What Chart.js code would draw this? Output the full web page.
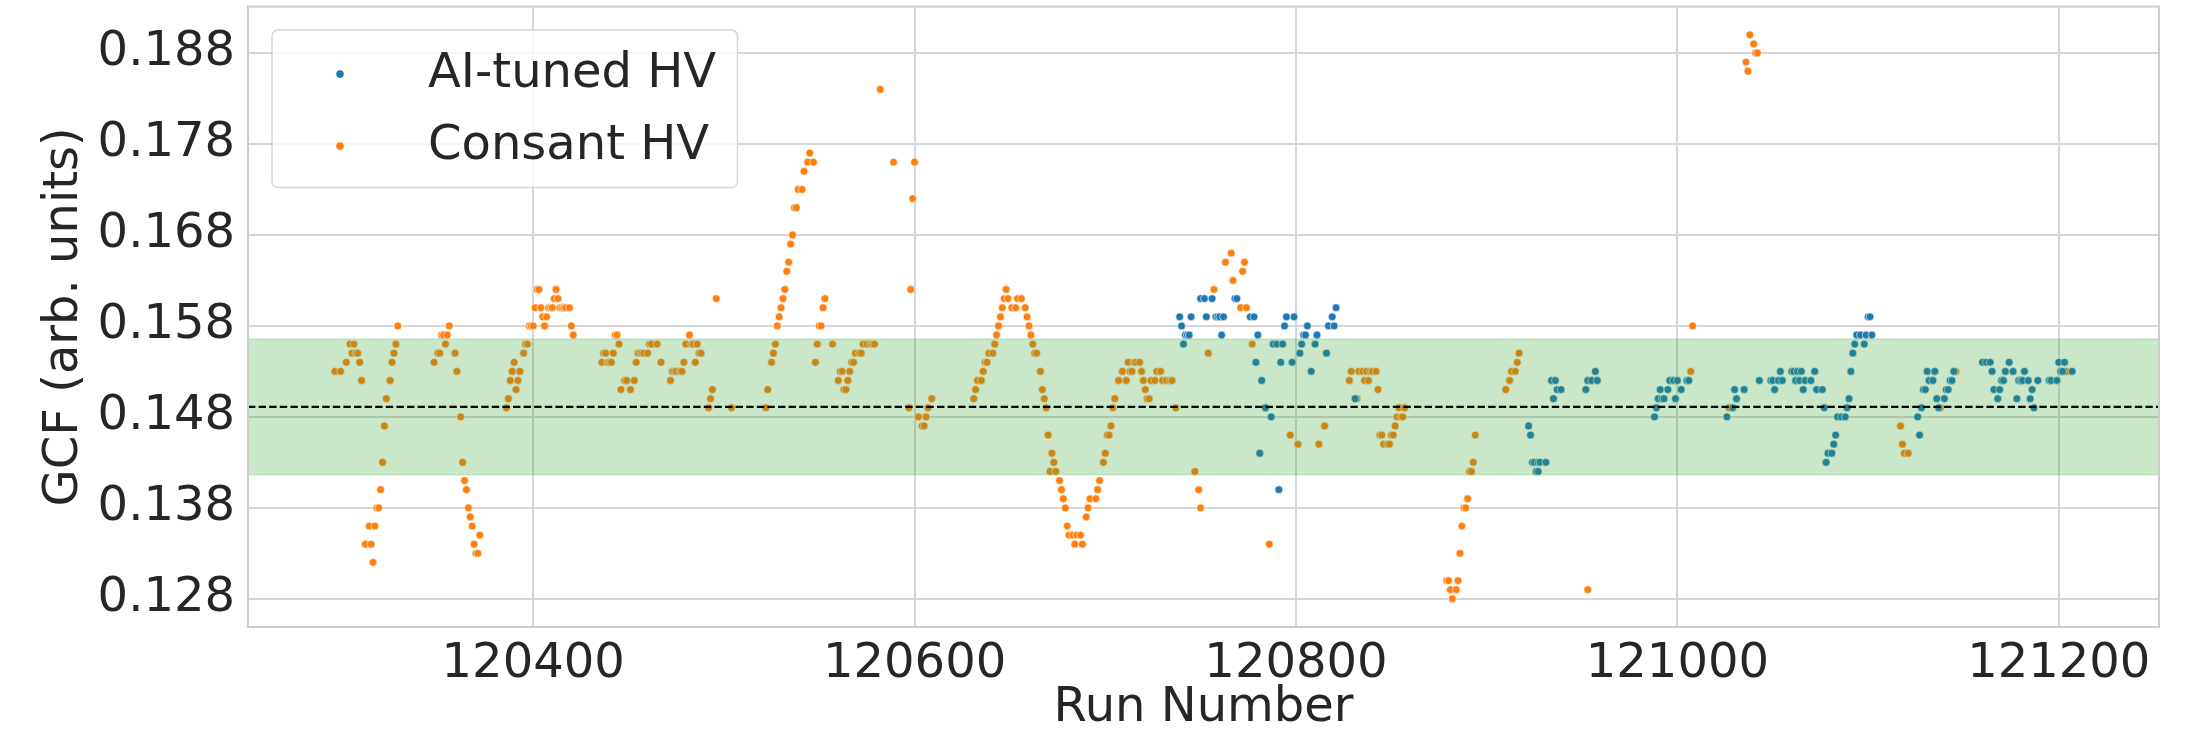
<!DOCTYPE html>
<html>
<head>
<meta charset="utf-8">
<script src="https://cdn.jsdelivr.net/npm/chart.js@4/dist/chart.umd.min.js"></script>
<style>
  html, body { margin: 0; padding: 0; background: #ffffff; }
  #wrap { width: 2203px; height: 737px; }
</style>
</head>
<body>
<div id="wrap"><canvas id="gcfChart" width="2203" height="737"></canvas></div>
<script>
// GCF per run, AI-tuned HV runs
const aiRuns = [
  120739,120740,120741,120742,120743,120744,120745,120750,120752,120753,120756,120758,120759,120760,120761,120762,120768,120769,120776,120778,120779,120780,120781,120782,120784,120787,120788,120790,120791,120792,120793,120794,120795,120798,120799,120802,120803,120804,120805,120806,120808,120810,120811,120816,120817,120819,120820,120821,120831,
  120922,120923,120924,120925,120926,120927,120927,120928,120931,120934,120935,120936,120937,120939,120952,120953,120955,120957,120958,
  120988,120989,120990,120991,120992,120993,120995,120996,120998,120999,121000,121002,121005,121006,
  121026,121029,121030,121031,121035,121043,121049,121050,121051,121053,121054,121055,121060,121061,121062,121063,121064,121065,121066,121067,121070,121072,121073,121076,121077,121078,121079,121081,121082,121083,121084,121086,121088,121089,121090,121091,121092,121093,121094,121096,121098,121099,121100,121101,121102,
  121126,121127,121128,121129,121130,121131,121132,121134,121135,121136,121137,121140,121141,121142,121143,121144,121145,
  121160,121162,121164,121165,121166,121168,121169,121170,121171,121172,121174,121176,121178,121179,121180,121181,121182,121184,121185,121186,121187,121189,121195,121196,121199,121200,121201,121202,121203,121207
];
const aiGcf = [
  .159,.158,.156,.157,.157,.157,.159,.161,.161,.159,.161,.159,.159,.159,.157,.159,.161,.161,.159,.159,.154,.157,.144,.152,.149,.148,.156,.156,.140,.154,.156,.158,.159,.154,.159,.155,.156,.157,.157,.158,.153,.156,.157,.155,.158,.159,.158,.160,.150,
  .147,.146,.143,.143,.142,.143,.142,.143,.143,.152,.150,.152,.151,.151,.151,.152,.152,.153,.152,
  .148,.149,.150,.151,.150,.150,.151,.152,.152,.150,.152,.151,.152,.152,
  .148,.149,.151,.150,.151,.152,.152,.152,.151,.152,.153,.152,.153,.153,.152,.153,.152,.153,.151,.152,.152,.153,.151,.151,.149,.143,.144,.144,.145,.146,.148,.148,.148,.149,.150,.153,.155,.156,.157,.157,.156,.157,.159,.159,.157,
  .148,.146,.149,.151,.151,.153,.152,.152,.153,.150,.149,.150,.151,.151,.152,.152,.153,
  .154,.154,.154,.153,.151,.150,.151,.152,.152,.153,.154,.153,.150,.152,.152,.152,.153,.152,.150,.151,.149,.152,.152,.152,.152,.154,.153,.153,.154,.153
];

// GCF per run, constant HV runs
const constRuns = [
  120296,120299,120302,120304,120305,120306,120307,120308,120309,120310,120312,120314,120315,120316,120317,120318,120319,120320,120321,120322,120323,120325,120326,120327,120328,120329,
  120348,120350,120351,120352,120353,120354,120355,120356,120359,120360,120362,120363,120364,120365,120366,120367,120368,120369,120370,120371,120372,
  120386,120387,120388,120389,120390,120391,120392,120393,120395,120396,120397,120398,120399,120400,120401,120402,120403,120404,120405,120406,120407,120408,120409,120410,120411,120412,120413,120414,120415,120416,120417,120419,120420,120421,
  120436,120437,120438,120439,120440,120441,120442,120443,120444,120445,120446,120448,120449,120451,120453,120454,120455,120456,120457,120458,120460,120461,120462,120465,120467,120472,120473,120474,120475,120477,120478,120479,120480,120482,120483,120484,120485,120486,120487,120488,120492,120493,120494,120496,120504,
  120522,120523,120525,120526,120527,120528,120529,120530,120531,120532,120533,120534,120535,120536,120537,120538,120539,120541,120542,120544,120545,120547,120548,120549,120550,120551,120552,120553,120557,120560,120561,120562,120563,120564,120565,120566,120567,120568,120569,120571,120572,120573,120575,120577,120578,120579,
  120582,120589,120597,120598,120599,120600,120602,120604,120605,120606,120607,120609,
  120631,120632,120633,120635,120636,120637,120638,120639,120641,120642,120643,120644,120645,120646,120647,120648,120649,120651,120653,120654,120656,120658,120659,120660,120661,120662,120663,120664,120666,120667,120668,120669,120670,120671,120672,120673,120674,120676,120677,120678,120679,120680,120681,120683,120684,120685,120687,120688,120690,120691,120692,120695,120696,120697,120699,120700,120701,120702,120703,120704,120705,120707,120709,120711,120712,120713,120714,120715,120716,120718,120719,120720,120721,120722,120723,120724,120726,120727,120729,120730,120732,120734,120735,120737,
  120747,120749,120750,120754,120757,120763,120766,120767,120771,120772,120773,120774,120777,120786,120797,120801,120812,120815,
  120828,120829,120832,120833,120835,120836,120837,120838,120839,120840,120842,120843,120844,120845,120846,120848,120849,120850,120851,120852,120853,120854,120855,120856,120857,
  120879,120880,120881,120882,120884,120885,120886,120887,120888,120889,120890,120891,120892,120893,120894,120910,120912,120913,120915,120916,120917,120953,
  121007,121008,121027,121036,121037,121038,121040,121041,121042,121117,121118,121119,121121,121138,121146,121204
];
const constGcf = [
  .153,.153,.154,.156,.155,.156,.155,.155,.154,.152,.134,.136,.134,.132,.136,.138,.138,.140,.143,.147,.150,.152,.154,.155,.156,.158,
  .154,.155,.155,.157,.157,.156,.157,.158,.155,.153,.148,.143,.141,.140,.138,.137,.136,.134,.133,.133,.135,
  .149,.150,.152,.153,.154,.151,.152,.153,.155,.156,.156,.158,.158,.158,.160,.162,.162,.160,.159,.158,.159,.160,.160,.160,.161,.162,.161,.160,.160,.160,.160,.160,.158,.157,
  .154,.155,.155,.154,.154,.154,.155,.157,.157,.156,.151,.152,.152,.151,.152,.154,.155,.155,.155,.155,.155,.156,.156,.156,.154,.152,.153,.153,.153,.153,.153,.154,.156,.157,.156,.156,.154,.156,.155,.155,.149,.150,.151,.161,.149,
  .149,.151,.154,.155,.156,.158,.159,.160,.161,.162,.164,.165,.167,.168,.171,.171,.173,.173,.175,.176,.177,.176,.154,.156,.158,.158,.160,.161,.156,.152,.153,.153,.151,.151,.152,.153,.154,.154,.155,.155,.155,.156,.156,.156,.156,.156,
  .184,.176,.149,.162,.172,.176,.148,.147,.147,.148,.149,.150,
  .150,.151,.152,.152,.153,.154,.154,.155,.155,.156,.157,.158,.159,.160,.161,.162,.161,.160,.160,.161,.161,.160,.159,.158,.157,.156,.155,.155,.153,.151,.150,.149,.146,.142,.144,.143,.142,.141,.140,.139,.138,.136,.135,.135,.134,.135,.135,.134,.137,.138,.139,.139,.140,.141,.143,.144,.146,.146,.147,.149,.150,.152,.153,.152,.154,.153,.153,.154,.154,.154,.153,.152,.151,.150,.150,.152,.152,.153,.153,.152,.152,.152,.152,.149,
  .142,.140,.138,.155,.162,.165,.166,.163,.160,.164,.165,.160,.156,.134,.146,.145,.145,.147,
  .152,.153,.150,.153,.153,.152,.153,.152,.153,.153,.153,.151,.146,.146,.145,.145,.145,.146,.146,.147,.148,.149,.148,.148,.149,
  .130,.130,.129,.128,.129,.130,.133,.136,.138,.138,.139,.142,.142,.143,.146,.151,.152,.153,.153,.154,.155,.129,
  .153,.158,.149,.187,.186,.190,.189,.188,.188,.147,.145,.144,.144,.149,.153,.153
];

const seriesLabels = ['AI-tuned HV', 'Consant HV'];
const seriesColors = ['#1f77b4', '#ff7f0e'];

const xTicks = [120400, 120600, 120800, 121000, 121200];
const yTicks = [0.128, 0.138, 0.148, 0.158, 0.168, 0.178, 0.188];

// reference level and +/-5% band
const gcfMean = 0.1491;
const bandFrac = 0.05;

const FONT = 'DejaVu Sans';
const TEXT = '#262626';
const GRID = '#d6d6d6';

function toPoints(xs, ys) {
  return xs.map((x, i) => ({ x: x, y: ys[i] }));
}

// axis limits with a 5% margin around the data
const allX = aiRuns.concat(constRuns);
const allY = aiGcf.concat(constGcf);
const xMinD = Math.min(...allX), xMaxD = Math.max(...allX);
const yMinD = Math.min(...allY), yMaxD = Math.max(...allY);
const xPad = (xMaxD - xMinD) * 0.05;
const yPad = (yMaxD - yMinD) * 0.05;

const overlay = {
  id: 'overlay',
  afterDatasetsDraw(chart) {
    const { ctx, chartArea: a, scales } = chart;
    const y = scales.y;
    ctx.save();
    ctx.beginPath();
    ctx.rect(a.left, a.top, a.right - a.left, a.bottom - a.top);
    ctx.clip();

    // shaded band
    const yTop = y.getPixelForValue(gcfMean * (1 + bandFrac));
    const yBot = y.getPixelForValue(gcfMean * (1 - bandFrac));
    ctx.fillStyle = 'rgba(44,160,44,0.25)';
    ctx.fillRect(a.left, yTop, a.right - a.left, yBot - yTop);
    ctx.strokeStyle = 'rgba(44,160,44,0.2)';
    ctx.lineWidth = 1.5;
    ctx.beginPath();
    ctx.moveTo(a.left, yTop); ctx.lineTo(a.right, yTop);
    ctx.moveTo(a.left, yBot); ctx.lineTo(a.right, yBot);
    ctx.stroke();

    // mean line
    const ym = y.getPixelForValue(gcfMean);
    ctx.strokeStyle = '#000000';
    ctx.lineWidth = 2.2;
    ctx.setLineDash([7.4, 3.2]);
    ctx.beginPath();
    ctx.moveTo(a.left, ym); ctx.lineTo(a.right, ym);
    ctx.stroke();
    ctx.restore();

    // frame
    ctx.save();
    ctx.strokeStyle = '#cccccc';
    ctx.lineWidth = 2;
    ctx.strokeRect(a.left, a.top, a.right - a.left, a.bottom - a.top);

    // legend box
    const lx = a.left + 24, ly = a.top + 23.5, lw = 465.5, lh = 157.5, r = 6;
    ctx.beginPath();
    ctx.moveTo(lx + r, ly);
    ctx.arcTo(lx + lw, ly, lx + lw, ly + lh, r);
    ctx.arcTo(lx + lw, ly + lh, lx, ly + lh, r);
    ctx.arcTo(lx, ly + lh, lx, ly, r);
    ctx.arcTo(lx, ly, lx + lw, ly, r);
    ctx.closePath();
    ctx.fillStyle = 'rgba(255,255,255,0.8)';
    ctx.fill();
    ctx.strokeStyle = 'rgba(204,204,204,0.8)';
    ctx.lineWidth = 1.5;
    ctx.stroke();

    ctx.font = '48px "' + FONT + '"';
    ctx.textBaseline = 'alphabetic';
    ctx.textAlign = 'left';
    chart.data.datasets.forEach((ds, i) => {
      const rowY = ly + 44 + i * 72;
      ctx.fillStyle = ds.backgroundColor;
      ctx.beginPath();
      ctx.arc(lx + 68, rowY, 3.8, 0, Math.PI * 2);
      ctx.fill();
      ctx.fillStyle = TEXT;
      ctx.fillText(ds.label, lx + 156, rowY + 12.7);
    });
    ctx.restore();
  }
};

new Chart(document.getElementById('gcfChart'), {
  type: 'scatter',
  data: {
    datasets: [
      {
        label: seriesLabels[0],
        data: toPoints(aiRuns, aiGcf),
        backgroundColor: seriesColors[0],
        pointBackgroundColor: seriesColors[0],
        pointBorderColor: '#ffffff',
        pointBorderWidth: 0.6,
        pointRadius: 3.9
      },
      {
        label: seriesLabels[1],
        data: toPoints(constRuns, constGcf),
        backgroundColor: seriesColors[1],
        pointBackgroundColor: seriesColors[1],
        pointBorderColor: '#ffffff',
        pointBorderWidth: 0.6,
        pointRadius: 3.9
      }
    ]
  },
  options: {
    responsive: false,
    animation: false,
    devicePixelRatio: 1,
    layout: { padding: { left: 0, right: 44, top: 6.6, bottom: 0 } },
    plugins: {
      legend: { display: false },
      tooltip: { enabled: false }
    },
    scales: {
      x: {
        type: 'linear',
        min: xMinD - xPad,
        max: xMaxD + xPad,
        afterBuildTicks: (s) => { s.ticks = xTicks.map(v => ({ value: v })); },
        afterFit: (s) => { s.height = 110; s.paddingLeft = 0; s.paddingRight = 0; },
        grid: { color: GRID, lineWidth: 2, drawTicks: false },
        border: { display: false },
        ticks: {
          color: TEXT,
          font: { family: FONT, size: 48 },
          padding: 8.5,
          maxRotation: 0,
          callback: (v) => String(v)
        },
        title: {
          display: true,
          text: 'Run Number',
          color: TEXT,
          font: { family: FONT, size: 48 },
          padding: { top: 0, bottom: 0 }
        }
      },
      y: {
        type: 'linear',
        min: yMinD - yPad,
        max: yMaxD + yPad,
        afterBuildTicks: (s) => { s.ticks = yTicks.map(v => ({ value: v })); },
        afterFit: (s) => { s.width = 248; s.paddingTop = 0; s.paddingBottom = 0; },
        grid: { color: GRID, lineWidth: 2, drawTicks: false },
        border: { display: false },
        ticks: {
          color: TEXT,
          font: { family: FONT, size: 48 },
          padding: 13,
          callback: (v) => v.toFixed(3)
        },
        title: {
          display: true,
          text: 'GCF (arb. units)',
          color: TEXT,
          font: { family: FONT, size: 48 },
          padding: { top: 36, bottom: 0 }
        }
      }
    }
  },
  plugins: [overlay]
});
</script>
</body>
</html>
